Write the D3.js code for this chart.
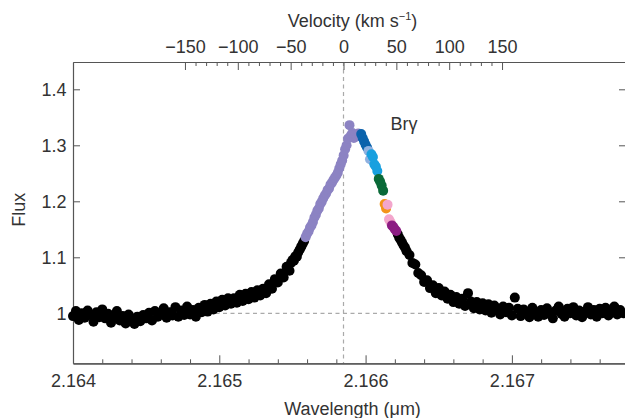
<!DOCTYPE html>
<html><head><meta charset="utf-8">
<script src="https://cdn.jsdelivr.net/npm/d3@7"></script>
<style>
body{margin:0;background:#fff}
svg{display:block}
text{font-family:"Liberation Sans",Arial,Helvetica,sans-serif}
</style>
</head><body>
<svg id="chart" width="625" height="418"></svg>
<script>
// ---- data ----
const wavelength = [
2.16400,2.16402,2.16404,2.16406,2.16408,2.16410,2.16412,2.16414,2.16416,2.16418,
2.16420,2.16422,2.16424,2.16426,2.16428,2.16430,2.16432,2.16434,2.16436,2.16438,
2.16440,2.16442,2.16444,2.16446,2.16448,2.16450,2.16452,2.16454,2.16456,2.16458,
2.16460,2.16462,2.16464,2.16466,2.16468,2.16470,2.16472,2.16474,2.16476,2.16478,
2.16480,2.16482,2.16484,2.16486,2.16488,2.16490,2.16492,2.16494,2.16496,2.16498,
2.16500,2.16502,2.16504,2.16506,2.16508,2.16510,2.16512,2.16514,2.16516,2.16518,
2.16520,2.16522,2.16524,2.16526,2.16528,2.16530,2.16532,2.16534,2.16536,2.16538,
2.16540,2.16542,2.16544,2.16546,2.16548,
2.16549,2.16550,2.16551,2.16552,2.16553,2.16554,2.16555,2.16556,2.16557,2.16558,
2.16559,2.16560,2.16561,2.16562,2.16563,2.16564,2.16565,2.16566,2.16567,2.16568,
2.16569,2.16570,2.16571,2.16572,2.16573,2.16574,2.16575,2.16576,2.16577,2.16578,
2.16579,2.16580,2.16581,2.16582,2.16583,2.16584,2.16585,2.16586,2.16587,2.16588,
2.16589,2.16590,2.16591,2.16592,2.16593,2.16594,2.16595,2.16596,2.16597,2.16598,
2.16599,2.16600,2.16601,2.16602,2.16603,2.16604,2.16605,2.16606,2.16607,2.16608,
2.16609,2.16610,2.16611,2.16612,2.16613,2.16614,2.16615,2.16616,2.16617,2.16618,
2.16619,2.16620,2.16621,2.16622,2.16623,2.16624,2.16625,2.16626,2.16627,2.16628,
2.16630,2.16632,2.16634,2.16636,2.16638,2.16640,2.16642,2.16644,2.16646,2.16648,
2.16650,2.16652,2.16654,2.16656,2.16658,2.16660,2.16662,2.16664,2.16666,2.16668,
2.16670,2.16672,2.16674,2.16676,2.16678,2.16680,2.16682,2.16684,2.16686,2.16688,
2.16690,2.16692,2.16694,2.16696,2.16698,2.16700,2.16702,2.16704,2.16706,2.16708,
2.16710,2.16712,2.16714,2.16716,2.16718,2.16720,2.16722,2.16724,2.16726,2.16728,
2.16730,2.16732,2.16734,2.16736,2.16738,2.16740,2.16742,2.16744,2.16746,2.16748,
2.16750,2.16752,2.16754,2.16756,2.16758,2.16760,2.16762,2.16764,2.16766,2.16768,
2.16770,2.16772,2.16774,2.16776
];
const flux = [
0.995,1.004,0.988,1.000,0.992,1.005,0.997,0.985,1.002,0.993,
1.007,0.991,0.999,0.983,0.996,1.004,0.987,0.995,0.982,0.998,
0.989,0.981,0.994,0.986,0.997,0.991,1.001,0.987,1.004,0.994,
0.999,1.009,0.992,1.002,0.996,1.011,0.994,1.005,0.997,1.012,
0.998,1.006,0.994,1.010,1.002,1.015,1.003,1.017,1.007,1.021,
1.011,1.024,1.014,1.027,1.017,1.027,1.019,1.033,1.022,1.035,
1.025,1.038,1.028,1.041,1.032,1.044,1.036,1.052,1.044,1.061,
1.055,1.071,1.064,1.083,1.076,
1.090,1.095,1.094,1.102,1.101,1.109,1.114,1.119,1.124,1.129,
1.136,1.142,1.146,1.153,1.157,1.163,1.171,1.176,1.183,1.187,
1.195,1.199,1.205,1.210,1.214,1.220,1.223,1.230,1.233,1.238,
1.242,1.246,1.251,1.259,1.266,1.273,1.282,1.293,1.300,1.312,
1.336,1.318,1.322,1.313,1.319,1.316,1.321,1.318,1.320,1.313,
1.307,1.301,1.296,1.290,1.275,1.284,1.279,1.266,1.262,1.254,
1.240,1.235,1.228,1.219,1.195,1.187,1.194,1.168,1.163,1.157,
1.154,1.150,1.147,1.141,1.135,1.131,1.126,1.121,1.117,1.111,
1.104,1.090,1.087,1.072,1.068,1.056,1.059,1.045,1.050,1.036,
1.045,1.032,1.039,1.026,1.033,1.020,1.029,1.017,1.026,1.013,
1.036,1.021,1.009,1.020,1.007,1.018,1.005,1.016,1.001,1.014,
1.006,0.998,1.012,1.002,1.010,0.996,1.028,1.008,0.995,1.007,
1.000,0.993,1.010,1.002,0.994,1.006,0.997,1.009,1.000,0.991,
1.005,1.012,0.999,0.994,1.008,1.000,1.011,0.996,1.005,0.993,
1.003,1.011,0.998,1.006,0.994,1.008,1.000,1.010,0.996,1.005,
1.012,0.998,1.006,1.000
];
// spectral channels highlighted in colour (wavelength bins)
const channelLower = [2.165585,2.165965,2.166015,2.166035,2.166085,2.166125,2.166145,2.166175];
const channelUpper = [2.165965,2.166015,2.166035,2.166085,2.166125,2.166145,2.166175,2.166215];
const channelColors = ["#8c83c3","#0b63ac","#8fb1e0","#18a0df","#0a6a38","#f3941a","#f3a6cc","#8c1c83"];
const continuumColor = "#000000";

const wavelengthTicks = [2.164,2.165,2.166,2.167];
const velocityTicks = [-150,-100,-50,0,50,100,150];
const fluxTicks = [1,1.1,1.2,1.3,1.4];
const restWavelength = 2.165849;
const lightSpeed = 299792.458;
const lineLabel = {text:"Brγ", wavelength:2.16617, flux:1.3275};

// ---- layout ----
const W = 625, H = 418;
const plotLeft = 73, plotRight = 626, plotTop = 62, plotBottom = 363.3;
const font = "'Liberation Sans', Arial, Helvetica, sans-serif";
const textColor = "#333", axisColor = "#555";

const x = d3.scaleLinear().domain([2.164, 2.16778]).range([plotLeft, plotRight]);
const y = d3.scaleLinear().domain([1 - 50/560, 1 + 251.3/560]).range([plotBottom, plotTop]);
const toVel = w => (w - restWavelength) / restWavelength * lightSpeed;
const v = d3.scaleLinear().domain(x.domain().map(toVel)).range(x.range());

const svg = d3.select("#chart");

// reference dashed lines
svg.append("line")
  .attr("x1", x(restWavelength)).attr("x2", x(restWavelength))
  .attr("y1", plotTop).attr("y2", plotBottom)
  .attr("stroke", "#aaa").attr("stroke-width", 1.2).attr("stroke-dasharray", "4,3.5");
svg.append("line")
  .attr("x1", plotLeft).attr("x2", plotRight)
  .attr("y1", y(1)).attr("y2", y(1))
  .attr("stroke", "#aaa").attr("stroke-width", 1.2).attr("stroke-dasharray", "4,3.5");

function styleAxis(g){
  g.attr("font-family", null).attr("font-size", null);
  g.select(".domain").attr("stroke", axisColor).attr("stroke-width", 1.2);
  g.selectAll(".tick line").attr("stroke", axisColor).attr("stroke-width", 1);
  g.selectAll(".tick text").attr("fill", textColor).attr("font-size", 18).attr("font-family", font);
}

// bottom axis
const minorW = d3.range(0, 19).map(i => +(2.164 + i*0.0002).toFixed(4)).filter(d => !wavelengthTicks.includes(d));
svg.append("g").attr("transform", `translate(0,${plotBottom})`)
  .call(d3.axisBottom(x).tickValues(minorW).tickSize(-4).tickFormat("").tickSizeOuter(0)).call(styleAxis);
svg.append("g").attr("transform", `translate(0,${plotBottom})`)
  .call(d3.axisBottom(x).tickValues(wavelengthTicks).tickSize(-8).tickPadding(11).tickSizeOuter(0).tickFormat(d3.format(".3f")))
  .call(styleAxis);

// top axis (velocity)
const minorV = d3.range(-150, 151, 10).filter(d => d % 50 !== 0);
svg.append("g").attr("transform", `translate(0,${plotTop})`)
  .call(d3.axisTop(v).tickValues(minorV).tickSize(-4).tickFormat("").tickSizeOuter(0)).call(styleAxis);
svg.append("g").attr("transform", `translate(0,${plotTop})`)
  .call(d3.axisTop(v).tickValues(velocityTicks).tickSize(-8).tickPadding(8.7).tickSizeOuter(0).tickFormat(d3.format("d")))
  .call(styleAxis);

// left axis
svg.append("g").attr("transform", `translate(${plotLeft},0)`)
  .call(d3.axisLeft(y).tickValues(fluxTicks).tickSize(-7).tickPadding(6.5).tickSizeOuter(0).tickFormat(d3.format("~g")))
  .call(styleAxis);
// right axis
svg.append("g").attr("transform", `translate(${plotRight},0)`)
  .call(d3.axisRight(y).tickValues(fluxTicks).tickSize(-7).tickSizeOuter(0).tickFormat(""))
  .call(styleAxis);

// axis titles
const vt = svg.append("text").attr("x", 352.5).attr("y", 27).attr("text-anchor", "middle")
  .attr("font-size", 18).attr("fill", textColor).attr("font-family", font);
vt.append("tspan").text("Velocity (km s");
vt.append("tspan").text("−1").attr("font-size", 11).attr("dy", -7);
vt.append("tspan").text(")").attr("dy", 7);

svg.append("text").attr("x", 352.5).attr("y", 415).attr("text-anchor", "middle")
  .attr("font-size", 18).attr("fill", textColor).attr("font-family", font).text("Wavelength (μm)");

svg.append("text").attr("transform", "translate(25,209.7) rotate(-90)").attr("text-anchor", "middle")
  .attr("font-size", 18).attr("fill", textColor).attr("font-family", font).text("Flux");

svg.append("text").attr("x", x(lineLabel.wavelength)).attr("y", y(lineLabel.flux))
  .attr("font-size", 18).attr("fill", textColor).attr("font-family", font).text(lineLabel.text);

// points
const channelOf = w => channelLower.findIndex((lo, i) => w >= lo && w < channelUpper[i]);
const pts = wavelength.map((w, i) => ({w, f: flux[i], c: channelOf(w)}));
const r = 5;
svg.append("g").selectAll("circle").data(pts.filter(p => p.c < 0)).join("circle")
  .attr("cx", p => x(p.w)).attr("cy", p => y(p.f)).attr("r", r).attr("fill", continuumColor);
svg.append("g").selectAll("circle").data(pts.filter(p => p.c >= 0)).join("circle")
  .attr("cx", p => x(p.w)).attr("cy", p => y(p.f)).attr("r", r).attr("fill", p => channelColors[p.c]);
</script>
</body></html>
